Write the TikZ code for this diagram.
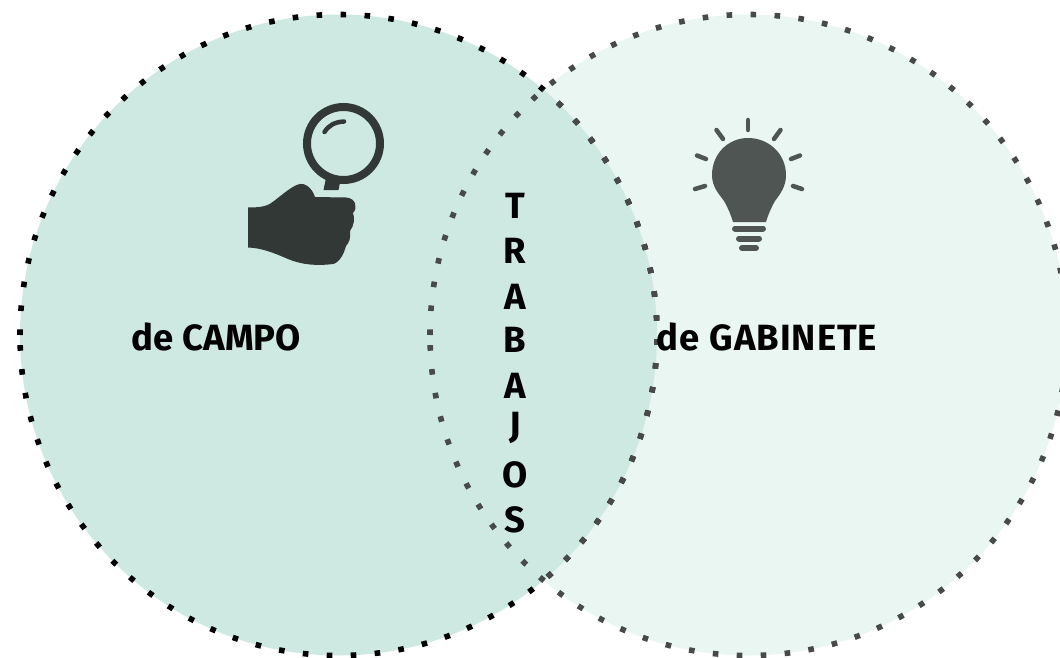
\documentclass[tikz,border=0pt]{standalone}
\usepackage{fontspec}
\setmainfont{Fira Sans}
\definecolor{leftfill}{HTML}{CEE9E2}
\definecolor{rightfill}{HTML}{E9F6F2}
\definecolor{dotgray}{HTML}{484A4A}
\definecolor{handcol}{HTML}{323836}
\definecolor{bulbcol}{HTML}{4F5553}
\tikzset{
  dotsline/.style={line width=5.6pt,dash pattern=on 5.6pt off 18.4pt},
  vennshape/.style={x radius=318.5,y radius=320.5},
  vennlabel/.style={font=\bfseries\fontsize{36.5}{40}\selectfont,text=black,inner sep=0pt,anchor=base},
  ray/.style={draw=bulbcol,line width=4.5pt,line cap=round},
  basebar/.style={draw=bulbcol,line width=6pt,line cap=round},
}
\begin{document}
\begin{tikzpicture}[x=1pt,y=-1pt]
\useasboundingbox (0,0) rectangle (1060,658);
\coordinate (cl) at (338.5,335);
\coordinate (cr) at (748.5,335);
\coordinate (sl) at (20,335);
\coordinate (sr) at (430,335);
\fill[rightfill] (cr) ellipse [vennshape];
\fill[leftfill] (cl) ellipse [vennshape];
\draw[dotsline,black] (sl) arc [start angle=180,end angle=540,vennshape];
\begin{scope}
\clip (cr) ellipse [vennshape];
\draw[dotsline,dotgray] (sl) arc [start angle=180,end angle=540,vennshape];
\end{scope}
\draw[dotsline,dotgray] (sr) arc [start angle=180,end angle=540,vennshape];
\node[vennlabel] (campo) at (216.5,350) {de CAMPO};
\node[vennlabel] (gabinete) at (767,350) {\addfontfeature{LetterSpace=2.7}de GABINETE};
\foreach \l/\y in {T/218,R/263,A/309,B/352,A/398,J/437,O/487,S/532}{
  \node[vennlabel] at (515,\y) {\l};
}
% magnifier
\draw[handcol,line width=8pt] (343.5,143.5) circle (36.5);
\draw[handcol,line width=4.5pt,line cap=round] (324.5,132) .. controls (329,125) and (335,122) .. (344,121.5);
\fill[handcol] (326,178) -- (341,178) -- (338.5,190) -- (323.5,190) -- cycle;
% hand
\fill[handcol] (248,207.5) .. controls (262,207.5) and (268,206) .. (274,201)
  .. controls (283,194) and (291,187) .. (298,184.5)
  .. controls (305,182) and (312,188) .. (315,197)
  -- (346,197.5) .. controls (356,198) and (358,208) .. (353,213)
  .. controls (355,218) and (354,226) .. (350,231)
  .. controls (351,238) and (349,243) .. (346,246)
  .. controls (344,254) and (339,263) .. (333,264)
  .. controls (318,266) and (302,265) .. (288,259)
  .. controls (274,253) and (262,248) .. (248,247.5) -- cycle;
% bulb
\fill[bulbcol] (748,138) .. controls (769,138) and (786,154) .. (786,175)
  .. controls (786,187) and (780,194) .. (775,201)
  .. controls (771,208) and (768,215) .. (766,222)
  -- (733,222) .. controls (731,215) and (728,208) .. (724,201)
  .. controls (719,194) and (712,187) .. (712,175)
  .. controls (712,154) and (728,138) .. (748,138) -- cycle;
\draw[basebar] (735,228.5) -- (763,228.5);
\draw[basebar] (739,238.5) -- (759,238.5);
\draw[basebar] (742,248) -- (756,248);
\draw[ray] (748,120) -- (748,130);
\draw[ray] (716.5,130) -- (723,139);
\draw[ray] (780.5,130) -- (774,139);
\draw[ray] (697,155.5) -- (706,159);
\draw[ray] (800,155.5) -- (791,159);
\draw[ray] (695,189) -- (705,186);
\draw[ray] (802,189) -- (793,186);
\end{tikzpicture}
\end{document}
